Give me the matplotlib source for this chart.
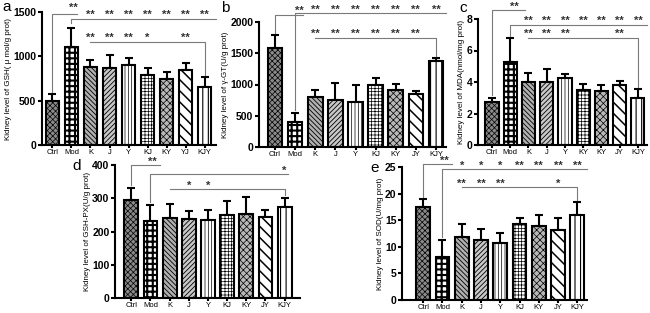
import numpy as np
import matplotlib
matplotlib.use("Agg")
import matplotlib.pyplot as plt

plt.rcParams['font.family'] = ['Liberation Sans', 'DejaVu Sans']
plt.rcParams['hatch.linewidth'] = 0.6

# data
labels_a = ["Ctrl", "Mod", "K", "J", "Y", "KJ", "KY", "YJ", "KJY"]
gsh = [500, 1110, 880, 870, 900, 785, 740, 850, 650]
gsh_err = [70, 210, 80, 140, 80, 80, 85, 80, 115]

labels_b = ["Ctrl", "Mod", "K", "J", "Y", "KJ", "KY", "JY", "KJY"]
ggt = [1590, 400, 800, 760, 720, 1000, 910, 850, 1375]
ggt_err = [200, 140, 110, 270, 270, 110, 100, 50, 50]

labels_c = ["Ctrl", "Mod", "K", "J", "Y", "KY", "KY", "JY", "KJY"]
mda = [2.75, 5.3, 4.0, 4.0, 4.25, 3.5, 3.45, 3.8, 3.0]
mda_err = [0.25, 1.5, 0.6, 0.85, 0.25, 0.4, 0.35, 0.25, 0.55]

labels_d = ["Ctrl", "Mod", "K", "J", "Y", "KJ", "KY", "JY", "KJY"]
gshpx = [295, 232, 242, 237, 236, 250, 252, 245, 275]
gshpx_err = [35, 48, 40, 25, 29, 42, 53, 20, 27]

labels_e = ["Ctrl", "Mod", "K", "J", "Y", "KJ", "KY", "JY", "KJY"]
sod = [17.5, 8.0, 11.8, 11.3, 10.8, 14.2, 14.0, 13.1, 16.0]
sod_err = [1.4, 3.3, 2.4, 2.1, 1.8, 1.2, 2.0, 2.4, 2.4]

# per group style: fill, hatch, hatch line width
fills = ['#8a8a8a', 'white', '#b0b0b0', '#c8c8c8', 'white', 'white', '#b8b8b8', 'white', 'white']
hatches = ['xxxxxx', '+++', '\\\\\\\\\\\\\\', '///////', '|||||', '+++++', 'xxxxx', '\\\\\\', '|||']
hlw = [0.5, 1.5, 0.6, 0.6, 0.5, 0.5, 0.5, 1.1, 0.8]

W, H = 650, 313
fig = plt.figure(figsize=(6.5, 3.13), dpi=100)


def make_ax(l, r, top, bot):
    return fig.add_axes([l / W, 1 - bot / H, (r - l) / W, (bot - top) / H])


def draw_panel(ax, labels, vals, errs, ymax, ystep, ylabel, xlim):
    x = np.arange(len(vals))
    ax.errorbar(x, vals, yerr=[np.zeros(len(vals)), errs], fmt='none',
                ecolor='black', elinewidth=1.5, capsize=3, capthick=1.5, zorder=1)
    for i in range(len(vals)):
        with plt.rc_context({'hatch.linewidth': hlw[i]}):
            ax.bar(x[i], vals[i], width=0.72, color=fills[i], edgecolor='black',
                   hatch=hatches[i], linewidth=1.5, zorder=2)
    ax.set_xlim(*xlim)
    ax.set_ylim(0, ymax)
    ax.set_yticks(np.arange(0, ymax + ystep / 2, ystep))
    ax.set_xticks(x)
    ax.set_xticklabels(labels, fontsize=5.5)
    for t in ax.get_yticklabels():
        t.set_fontsize(7.5)
        t.set_fontweight('bold')
    ax.set_ylabel(ylabel, fontsize=5.8, labelpad=1)
    for s in ['top', 'right']:
        ax.spines[s].set_visible(False)
    for s in ['left', 'bottom']:
        ax.spines[s].set_linewidth(1.5)
    ax.tick_params(axis='y', width=1.5, length=3, pad=1)
    ax.tick_params(axis='x', width=1.5, length=2, pad=1)


def line(ax, xs, ys):
    ax.plot(xs, ys, color='#7a7a7a', lw=0.8, clip_on=False, zorder=3)


def stars(ax, xs, y, marks):
    for xi, m in zip(xs, marks):
        ax.text(xi, y, m, ha='center', va='center', fontsize=8, color='#333333',
                fontweight='bold', clip_on=False)


# panel a
ax = make_ax(42, 216, 12, 145)
draw_panel(ax, labels_a, gsh, gsh_err, 1500, 500,
           "Kidney level of GSH( \u03bc mol/g prot)", (-0.55, 8.6))
line(ax, [0, 0, 1.3], [gsh[0] + gsh_err[0] + 30, 1480, 1480])
stars(ax, [1.1], 1545, ['**'])
line(ax, [1, 1, 8.6], [gsh[1] + gsh_err[1] + 60, 1420, 1420])
stars(ax, range(2, 9), 1465, ['**'] * 7)
line(ax, [2, 8, 8], [1160, 1160, gsh[8] + gsh_err[8] + 30])
stars(ax, [2, 3, 4, 5, 7], 1205, ['**', '**', '**', '*', '**'])

# panel b
ax = make_ax(259, 446, 22, 147)
draw_panel(ax, labels_b, ggt, ggt_err, 2000, 500,
           "Kidney level of \u03b3-GT(U/g prot)", (-0.8, 8.5))
line(ax, [0, 0, 1.4], [ggt[0] + ggt_err[0] + 40, 2110, 2110])
stars(ax, [1.2], 2180, ['**'])
line(ax, [1, 1, 8.5], [ggt[1] + ggt_err[1] + 60, 2140, 2140])
stars(ax, range(2, 9), 2190, ['**'] * 7)
line(ax, [2, 8, 8], [1745, 1745, ggt[8] + ggt_err[8] + 30])
stars(ax, range(2, 8), 1810, ['**'] * 6)

# panel c
ax = make_ax(478, 647, 19, 145)
draw_panel(ax, labels_c, mda, mda_err, 8, 2,
           "Kidney level of MDA(nmol/mg prot)", (-0.77, 8.5))
line(ax, [0, 0, 1.8], [mda[0] + mda_err[0] + 0.2, 8.55, 8.55])
stars(ax, [1.2], 8.8, ['**'])
line(ax, [1, 1, 8.5], [mda[1] + mda_err[1] + 0.15, 7.65, 7.65])
stars(ax, range(2, 9), 7.9, ['**'] * 7)
line(ax, [2, 8, 8], [6.8, 6.8, mda[8] + mda_err[8] + 0.15])
stars(ax, [2, 3, 4, 7], 7.05, ['**'] * 4)

# panel d
ax = make_ax(115, 300, 165, 298)
draw_panel(ax, labels_d, gshpx, gshpx_err, 400, 100,
           "Kidney level of GSH-PX(U/g prot)", (-0.85, 8.8))
line(ax, [0, 0, 1.5], [gshpx[0] + gshpx_err[0] + 10, 400, 400])
stars(ax, [1.1], 410, ['**'])
line(ax, [1, 1, 8.2], [gshpx[1] + gshpx_err[1] + 10, 373, 373])
stars(ax, [8], 383, ['*'])
line(ax, [2, 8, 8], [328, 328, gshpx[8] + gshpx_err[8] + 8])
stars(ax, [3, 4], 338, ['*', '*'])

# panel e
ax = make_ax(402, 587, 167, 300)
draw_panel(ax, labels_e, sod, sod_err, 25, 5,
           "Kidney level of SOD(U/mg prot)", (-1.1, 8.5))
line(ax, [0, 0, 1.5], [sod[0] + sod_err[0] + 0.4, 25.6, 25.6])
stars(ax, [1.1], 26.2, ['**'])
line(ax, [1, 1, 8.5], [sod[1] + sod_err[1] + 0.5, 24.6, 24.6])
stars(ax, range(2, 9), 25.2, ['*', '*', '*', '**', '**', '**', '**'])
line(ax, [2, 8, 8], [21.2, 21.2, sod[8] + sod_err[8] + 0.4])
stars(ax, [2, 3, 4, 7], 21.8, ['**', '**', '**', '*'])

# panel letters
for lx, ly, s in [(2, 7, 'a'), (221, 8, 'b'), (459, 8, 'c'), (72, 166, 'd'), (370, 168, 'e')]:
    fig.text(lx / W, 1 - ly / H, s, fontsize=11, va='center', ha='left')

fig.savefig("out.png", dpi=100)
